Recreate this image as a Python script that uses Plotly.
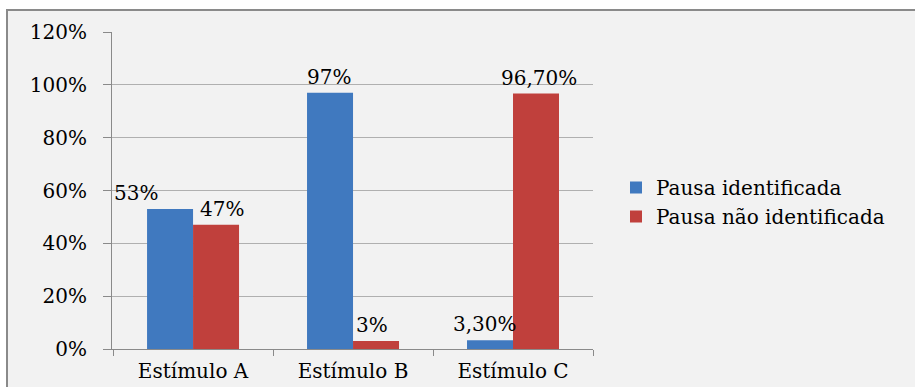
import plotly.graph_objects as go

categories = ["Estímulo A", "Estímulo B", "Estímulo C"]
series_names = ["Pausa identificada", "Pausa não identificada"]
identificada = [53, 97, 3.3]
nao_identificada = [47, 3, 96.7]
labels_identificada = ["53%", "97%", "3,30%"]
labels_nao_identificada = ["47%", "3%", "96,70%"]
y_ticks = [0, 20, 40, 60, 80, 100, 120]
y_tick_labels = ["0%", "20%", "40%", "60%", "80%", "100%", "120%"]

FONT = "DejaVu Serif"
FS = 20
BLUE = "#4079bf"
RED = "#c0403c"

W, H = 915, 387
ML, MR, MT, MB = 112, 322, 32, 38
PW, PH = W - ML - MR, H - MT - MB

def px_x(p):
    return (p - ML) / PW

def px_y(p):
    return (H - MB - p) / PH

fig = go.Figure()
fig.add_trace(go.Bar(x=categories, y=identificada, name=series_names[0],
                     marker=dict(color=BLUE, line=dict(width=0))))
fig.add_trace(go.Bar(x=categories, y=nao_identificada, name=series_names[1],
                     marker=dict(color=RED, line=dict(width=0))))

bargap = 0.425
slot = PW / len(categories)
bar_w = slot * (1 - bargap) / 2
nudges = [[-34, -1, -5], [6, -4, 3]]
for si, (vals, labs) in enumerate([(identificada, labels_identificada),
                                    (nao_identificada, labels_nao_identificada)]):
    off = (-0.5 if si == 0 else 0.5) * bar_w
    for ci, (c, v, t) in enumerate(zip(categories, vals, labs)):
        fig.add_annotation(x=c, y=v, text=t, showarrow=False, xref="x", yref="y",
                           xanchor="center", yanchor="bottom",
                           xshift=off + nudges[si][ci], yshift=2,
                           font=dict(family=FONT, size=FS, color="#000"))

# outer chart frame
fig.add_shape(type="rect", xref="paper", yref="paper",
              x0=px_x(7), x1=px_x(930), y0=px_y(400), y1=px_y(10),
              fillcolor="#f2f2f2", line=dict(color="#8a8a8a", width=2), layer="below")

fig.update_layout(
    width=W, height=H,
    margin=dict(l=ML, r=MR, t=MT, b=MB, pad=0, autoexpand=False),
    paper_bgcolor="white", plot_bgcolor="white",
    barmode="group", bargap=bargap, bargroupgap=0,
    font=dict(family=FONT, size=FS, color="#000"),
    showlegend=True,
    legend=dict(x=px_x(616), xanchor="left", y=px_y(202), yanchor="middle",
                font=dict(family=FONT, size=FS, color="#000"),
                bgcolor="rgba(0,0,0,0)", tracegroupgap=0),
    xaxis=dict(showline=True, linecolor="#8a8a8a", linewidth=1, automargin=False,
               ticks="outside", tickson="boundaries", ticklen=6, tickcolor="#8a8a8a",
               ticklabelstandoff=4,
               showgrid=False, tickfont=dict(family=FONT, size=FS, color="#000"),
               fixedrange=True),
    yaxis=dict(range=[0, 120], tickvals=y_ticks, ticktext=y_tick_labels,
               showline=True, linecolor="#8a8a8a", linewidth=1, automargin=False,
               ticks="outside", ticklen=8, tickcolor="#8a8a8a",
               ticklabelstandoff=12,
               showgrid=True, gridcolor="#b0b0b0", gridwidth=1,
               zeroline=False, tickfont=dict(family=FONT, size=FS, color="#000"),
               fixedrange=True),
)

fig.write_html("out.html", config=dict(displayModeBar=False))
